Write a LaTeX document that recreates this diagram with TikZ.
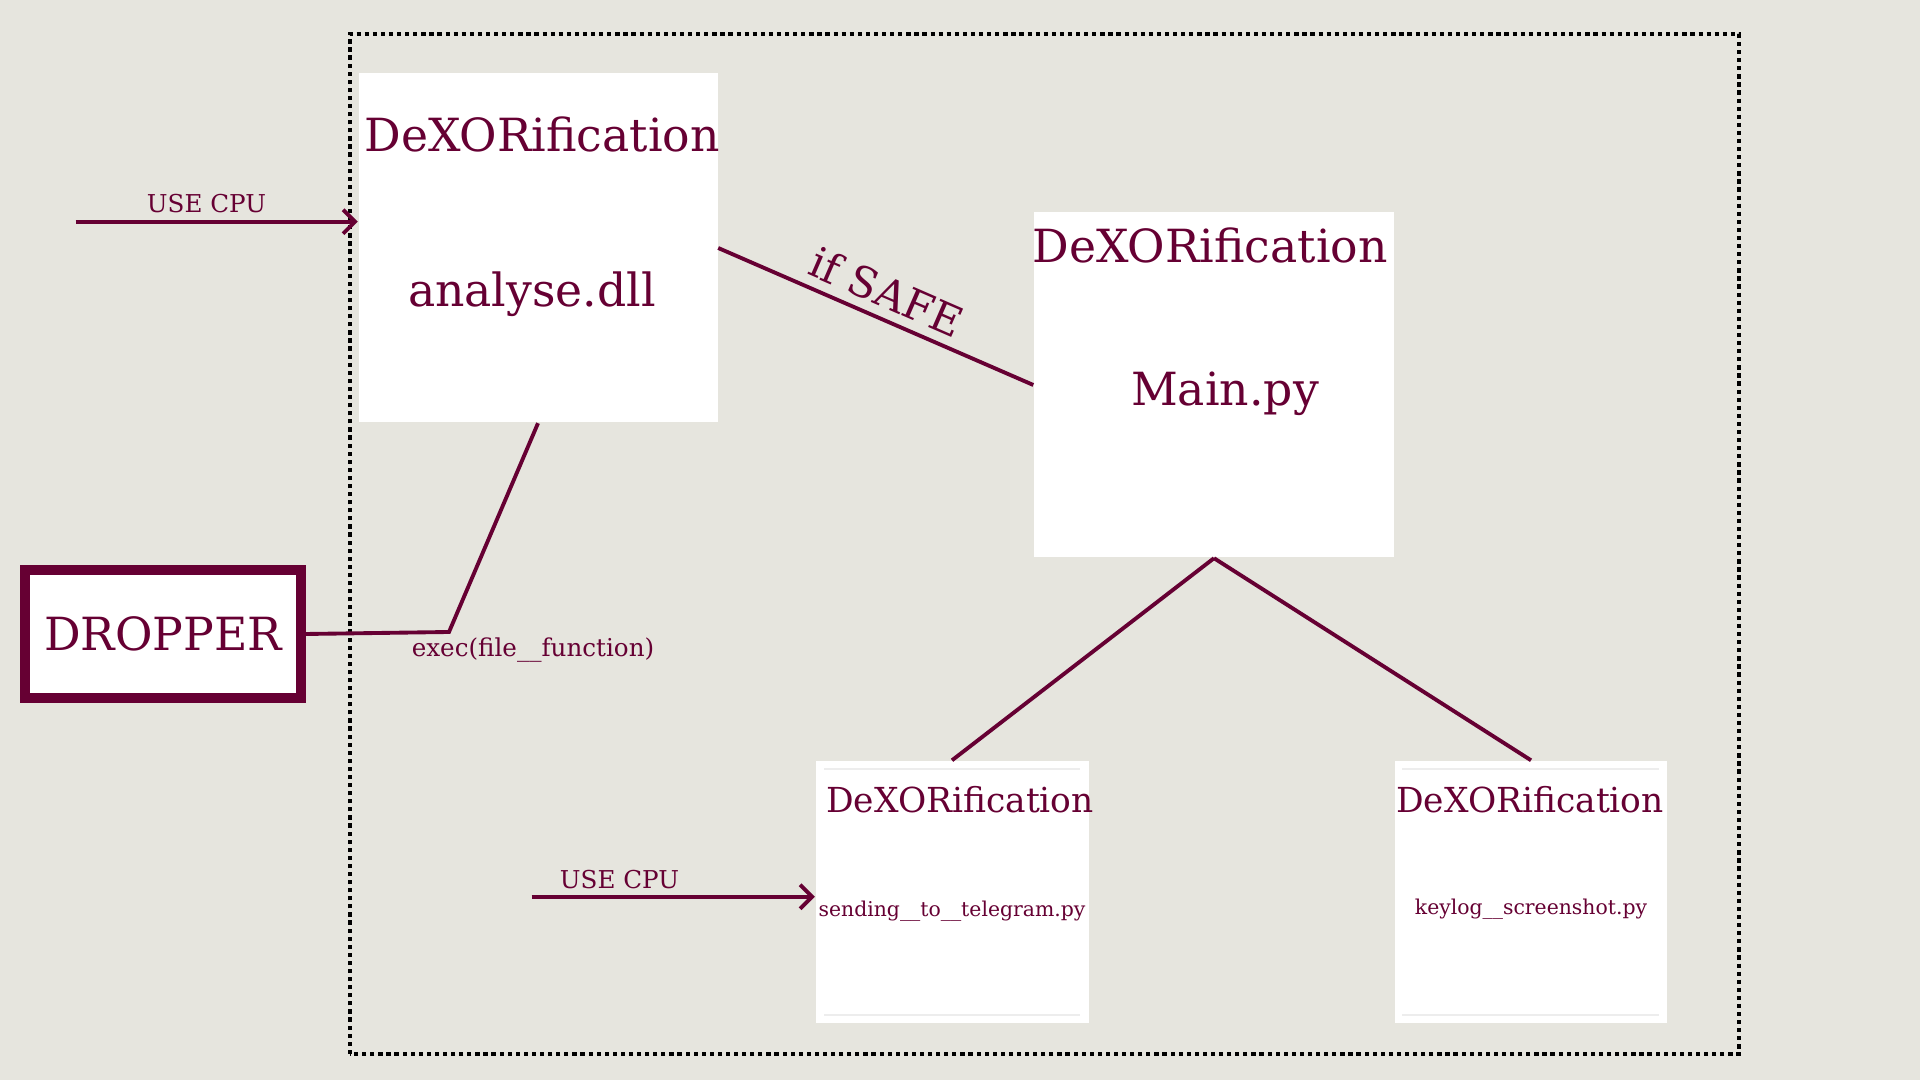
\documentclass[tikz,border=0pt]{standalone}
\usepackage{fontspec}
\setmainfont{DejaVu Serif}
\usetikzlibrary{arrows.meta,calc}

\definecolor{wine}{RGB}{102,0,51}
\definecolor{paper}{RGB}{230,229,222}

\begin{document}
\begin{tikzpicture}[
    box/.style={fill=white, inner sep=0pt},
    big/.style={text=wine, font=\fontsize{13}{15}\selectfont, inner sep=0pt},
    mid/.style={text=wine, font=\fontsize{9.8}{12}\selectfont, inner sep=0pt},
    small/.style={text=wine, font=\fontsize{5.8}{7}\selectfont, inner sep=0pt},
    lbl/.style={text=wine, font=\fontsize{7}{8}\selectfont, inner sep=0pt},
    conn/.style={wine, line width=1.1pt},
    arr/.style={conn, -{Straight Barb[length=1.2mm,width=2.4mm]}},
  ]
  \fill[paper] (0,0) rectangle (19.2,10.8);
  \useasboundingbox (0,0) rectangle (19.2,10.8);

  \draw[line width=1.1pt, dash pattern=on 1.2pt off 1.1pt] (3.5,0.26) rectangle (17.39,10.46);

  % the boxes
  \node[box, minimum width=3.59cm, minimum height=3.49cm] (analyse) at (5.38,8.32) {};
  \node[box, minimum width=3.60cm, minimum height=3.45cm] (mainpy) at (12.14,6.95) {};
  \node[box, minimum width=2.73cm, minimum height=2.62cm] (sending) at (9.52,1.88) {};
  \node[box, minimum width=2.72cm, minimum height=2.62cm] (keylog) at (15.31,1.88) {};
  \node[box, big, draw=wine, line width=1mm, minimum width=2.76cm, minimum height=1.28cm] (dropper) at (1.63,4.46) {DROPPER};

  \foreach \y in {0.65,3.11} {
    \draw[black!7, line width=0.4pt] (8.24,\y) -- (10.80,\y);
    \draw[black!7, line width=0.4pt] (14.02,\y) -- (16.59,\y);
  }

  \node[big, anchor=base] (analyseT) at (5.42,9.28) {DeXORification};
  \node[big, anchor=base] (analyseN) at (5.32,7.73) {analyse.dll};
  \node[big, anchor=base] (mainT) at (12.10,8.17) {DeXORification};
  \node[big, anchor=base] (mainN) at (12.25,6.74) {Main.py};
  \node[mid, anchor=base] (sendingT) at (9.60,2.67) {DeXORification};
  \node[small, anchor=base] (sendingN) at (9.52,1.63) {sending\_\_to\_\_telegram.py};
  \node[mid, anchor=base] (keylogT) at (15.30,2.67) {DeXORification};
  \node[small, anchor=base] (keylogN) at (15.31,1.65) {keylog\_\_screenshot.py};

  % connectors
  \coordinate (cpuA) at (0.755,8.583);
  \coordinate (cpuB) at (5.315,1.833);
  \coordinate (elbow) at (4.49,4.48);

  \draw[arr] (cpuA) -- (cpuA -| analyse.west);
  \node[lbl, anchor=base] (cpuAlbl) at (2.065,8.67) {USE CPU};
  \draw[arr] (cpuB) -- (cpuB -| sending.west);
  \node[lbl, anchor=base] (cpuBlbl) at (6.195,1.91) {USE CPU};

  \draw[conn] (analyse.east) -- node[big, font=\fontsize{12}{14}\selectfont, sloped, above, inner sep=2.5pt, pos=0.5] (safe) {if SAFE} (mainpy.west);
  \draw[conn] (dropper.east) -- (elbow) -- (analyse.south);
  \node[lbl, anchor=base] (execlbl) at (5.33,4.23) {exec(file\_\_function)};

  \draw[conn] (mainpy.south) -- (sending.north);
  \draw[conn] (mainpy.south) -- (keylog.north);
\end{tikzpicture}
\end{document}
